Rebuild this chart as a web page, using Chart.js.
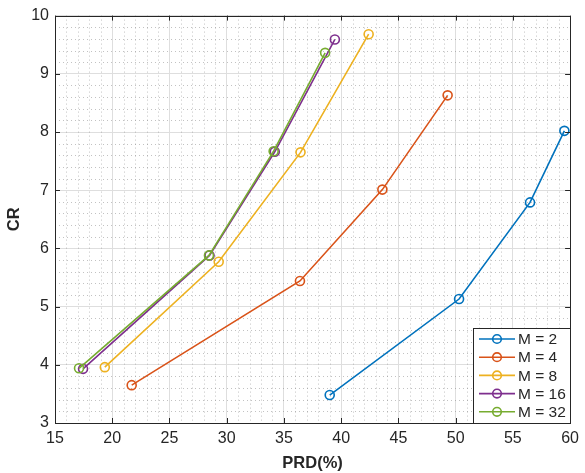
<!DOCTYPE html>
<html>
<head>
<meta charset="utf-8">
<script src="https://cdn.jsdelivr.net/npm/chart.js@4"></script>
<style>
  body { margin: 0; background: #fff; }
</style>
</head>
<body>
<canvas id="cr-prd-chart" width="585" height="473"></canvas>
<script>
// values
const seriesLabels = ["M = 2", "M = 4", "M = 8", "M = 16", "M = 32"];
const seriesColors = ["#0072BD", "#D95319", "#EDB120", "#7E2F8E", "#77AC30"];

const prdM2 = [39.0, 50.3, 56.5, 59.5];
const crM2 = [3.48, 5.13, 6.79, 8.02];
const prdM4 = [21.7, 36.4, 43.6, 49.3];
const crM4 = [3.65, 5.44, 7.01, 8.63];
const prdM8 = [19.35, 29.3, 36.45, 42.4];
const crM8 = [3.96, 5.77, 7.65, 9.68];
const prdM16 = [17.45, 28.5, 34.2, 39.45];
const crM16 = [3.93, 5.88, 7.66, 9.59];
const prdM32 = [17.1, 28.45, 34.1, 38.6];
const crM32 = [3.94, 5.88, 7.67, 9.36];

const xTicks = [15, 20, 25, 30, 35, 40, 45, 50, 55, 60];
const yTicks = [3, 4, 5, 6, 7, 8, 9, 10];
const xMinorStep = 1;
const yMinorStep = 0.2;

const allPrd = [prdM2, prdM4, prdM8, prdM16, prdM32];
const allCr = [crM2, crM4, crM8, crM16, crM32];

const axisColor = "#262626";
const fontFamily = "'Liberation Sans', Arial, Helvetica, sans-serif";

const datasets = seriesLabels.map((label, i) => ({
  label: label,
  data: allPrd[i].map((px, k) => ({ x: px, y: allCr[i][k] })),
  borderColor: seriesColors[i],
  backgroundColor: seriesColors[i],
  borderWidth: 1.6,
  pointStyle: "circle",
  pointRadius: 4.5,
  pointBorderWidth: 1.6,
  pointBackgroundColor: "rgba(255,255,255,0)",
  pointBorderColor: seriesColors[i],
  showLine: true,
  tension: 0,
  clip: false,
  order: seriesLabels.length - i, // later series on top, like MATLAB
}));

// minor dotted grid, box, inward ticks and the legend inside the axes
const matlabAxes = {
  id: "matlabAxes",
  beforeDatasetsDraw(chart) {
    const { ctx, chartArea: a, scales: { x, y } } = chart;
    ctx.save();
    ctx.strokeStyle = "rgba(120,120,120,0.45)";
    ctx.lineWidth = 1;
    ctx.setLineDash([1, 3]);
    ctx.beginPath();
    const x0 = xTicks[0], x1 = xTicks[xTicks.length - 1];
    for (let i = 1; x0 + i * xMinorStep < x1; i++) {
      const v = x0 + i * xMinorStep;
      if (xTicks.includes(v)) continue;
      const px = Math.round(x.getPixelForValue(v)) + 0.5;
      ctx.moveTo(px, a.top);
      ctx.lineTo(px, a.bottom);
    }
    const y0 = yTicks[0], y1 = yTicks[yTicks.length - 1];
    const n = Math.round((y1 - y0) / yMinorStep);
    for (let i = 1; i < n; i++) {
      if (i % 5 === 0) continue;
      const py = Math.round(y.getPixelForValue(y0 + i * yMinorStep)) + 0.5;
      ctx.moveTo(a.left, py);
      ctx.lineTo(a.right, py);
    }
    ctx.stroke();
    ctx.restore();
  },
  afterDatasetsDraw(chart) {
    const { ctx, chartArea: a, scales: { x, y } } = chart;
    const tl = 5;
    ctx.save();
    ctx.strokeStyle = axisColor;
    ctx.lineWidth = 1;
    ctx.beginPath();
    xTicks.forEach((v) => {
      const px = Math.round(x.getPixelForValue(v)) + 0.5;
      ctx.moveTo(px, a.bottom); ctx.lineTo(px, a.bottom - tl);
      ctx.moveTo(px, a.top); ctx.lineTo(px, a.top + tl);
    });
    yTicks.forEach((v) => {
      const py = Math.round(y.getPixelForValue(v)) + 0.5;
      ctx.moveTo(a.left, py); ctx.lineTo(a.left + tl, py);
      ctx.moveTo(a.right, py); ctx.lineTo(a.right - tl, py);
    });
    ctx.stroke();
    ctx.strokeRect(Math.round(a.left) + 0.5, Math.round(a.top) + 0.5,
      Math.round(a.right - a.left), Math.round(a.bottom - a.top));
    ctx.restore();
  },
  afterDraw(chart) {
    const { ctx, chartArea: a } = chart;
    const w = 97, h = 95;
    const bx = Math.round(a.right) - w, by = Math.round(a.bottom) - h;
    ctx.save();
    ctx.fillStyle = "#fff";
    ctx.fillRect(bx, by, w, h);
    ctx.strokeStyle = axisColor;
    ctx.lineWidth = 1;
    ctx.strokeRect(bx + 0.5, by + 0.5, w, h);
    ctx.font = "15.5px " + fontFamily;
    ctx.textBaseline = "middle";
    ctx.textAlign = "left";
    chart.data.datasets.forEach((ds, i) => {
      const ry = by + 11 + i * 18.2;
      ctx.strokeStyle = ds.borderColor;
      ctx.lineWidth = 1.6;
      ctx.beginPath();
      ctx.moveTo(bx + 6, ry);
      ctx.lineTo(bx + 42, ry);
      ctx.stroke();
      ctx.beginPath();
      ctx.arc(bx + 24, ry, 4.3, 0, Math.PI * 2);
      ctx.stroke();
      ctx.fillStyle = axisColor;
      ctx.fillText(ds.label, bx + 45, ry + 1);
    });
    ctx.restore();
  },
};

const ctx = document.getElementById("cr-prd-chart");

new Chart(ctx, {
  type: "scatter",
  data: { datasets: datasets },
  options: {
    responsive: false,
    animation: false,
    layout: { padding: { left: 0, top: 13, right: 10, bottom: 0 } },
    plugins: {
      legend: { display: false },
      tooltip: { enabled: false },
    },
    scales: {
      x: {
        type: "linear",
        min: xTicks[0],
        max: xTicks[xTicks.length - 1],
        afterBuildTicks: (s) => { s.ticks = xTicks.map((v) => ({ value: v })); },
        afterFit: (s) => { s.height = 50; },
        ticks: {
          color: axisColor,
          padding: 6,
          maxRotation: 0,
          font: { family: fontFamily, size: 16 },
        },
        grid: { color: "#dedede", lineWidth: 1, drawTicks: false },
        border: { display: false },
        title: {
          display: true,
          text: "PRD(%)",
          color: axisColor,
          padding: { top: 0, bottom: 0 },
          font: { family: fontFamily, size: 16.5, weight: "bold" },
        },
      },
      y: {
        type: "linear",
        min: yTicks[0],
        max: yTicks[yTicks.length - 1],
        afterBuildTicks: (s) => { s.ticks = yTicks.map((v) => ({ value: v })); },
        afterFit: (s) => { s.width = 55; },
        ticks: {
          color: axisColor,
          padding: 6,
          font: { family: fontFamily, size: 16 },
        },
        grid: { color: "#dedede", lineWidth: 1, drawTicks: false },
        border: { display: false },
        title: {
          display: true,
          text: "CR",
          color: axisColor,
          padding: { top: 5, bottom: 0 },
          font: { family: fontFamily, size: 16.5, weight: "bold" },
        },
      },
    },
  },
  plugins: [matlabAxes],
});
</script>
</body>
</html>
